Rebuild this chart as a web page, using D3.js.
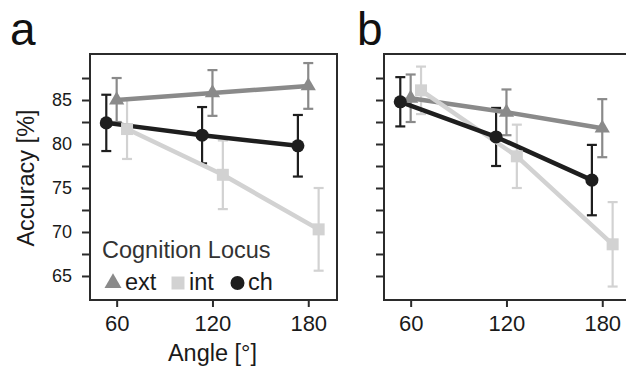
<!DOCTYPE html>
<html>
<head>
<meta charset="utf-8">
<script src="https://cdn.jsdelivr.net/npm/d3@7"></script>
<style>
  html, body { margin: 0; padding: 0; background: #fff; }
  svg { display: block; font-family: "Liberation Sans", Arial, sans-serif; }
</style>
</head>
<body>
<svg id="chart" width="626" height="368"></svg>
<script>
// ---- data ----
const angles = [60, 120, 180];
const seriesNames = ["ext", "int", "ch"];
const yTicks = [65, 67.5, 70, 72.5, 75, 77.5, 80, 82.5, 85, 87.5];
const yLabels = [65, 70, 75, 80, 85];
const panelLabels = ["a", "b"];

// panel a
const extA = [85.0, 85.8, 86.6];
const extAErr = [2.5, 2.6, 2.6];
const intA = [81.7, 76.5, 70.3];
const intAErr = [3.4, 3.9, 4.7];
const chA = [82.4, 81.0, 79.8];
const chAErr = [3.2, 3.2, 3.5];
// panel b
const extB = [85.2, 83.6, 81.8];
const extBErr = [2.7, 2.6, 3.3];
const intB = [86.1, 78.6, 68.6];
const intBErr = [2.7, 3.6, 4.8];
const chB = [84.8, 80.8, 75.9];
const chBErr = [2.8, 3.3, 4.0];

// ---- styles ----
const colors = { ext: "#8a8a8a", int: "#d2d2d2", ch: "#1e1e1e" };
const dodge = { ext: 0, int: 6.5, ch: -6.5 };
const symbols = { ext: d3.symbolTriangle, int: d3.symbolSquare, ch: d3.symbolCircle };
const symSize = { ext: 100, int: 144, ch: 135 };

const panels = [
  { label: panelLabels[0], left: 90, data: { ext: [extA, extAErr], int: [intA, intAErr], ch: [chA, chAErr] }, yLabels: true, xTitle: true },
  { label: panelLabels[1], left: 384, data: { ext: [extB, extBErr], int: [intB, intBErr], ch: [chB, chBErr] }, yLabels: false, xTitle: false }
];

const plotTop = 54, plotBottom = 300, plotWidth = 247;
const svg = d3.select("#chart");

const y = d3.scaleLinear().domain([62.27, 90.23]).range([plotBottom, plotTop]);

panels.forEach((p, pi) => {
  const x = d3.scaleLinear().domain([43.3, 198]).range([p.left, p.left + plotWidth]);
  const g = svg.append("g");

  // panel letter
  g.append("text")
    .attr("x", pi === 0 ? 10 : 357)
    .attr("y", 45)
    .attr("font-size", 46)
    .attr("fill", "#111")
    .text(p.label);

  // y axis ticks
  const yAxis = d3.axisLeft(y)
    .tickValues(yTicks)
    .tickSize(8)
    .tickPadding(10)
    .tickFormat(d => (p.yLabels && yLabels.includes(d)) ? d3.format("d")(d) : "");
  const ya = g.append("g").attr("transform", `translate(${p.left},0)`).call(yAxis);
  ya.select(".domain").remove();
  ya.selectAll(".tick line").attr("stroke", "#2b2b2b").attr("stroke-width", 2);
  ya.selectAll(".tick text").attr("font-size", 18).attr("fill", "#1a1a1a")
    .attr("font-family", "Liberation Sans, Arial, sans-serif");

  // x axis ticks
  const xAxis = d3.axisBottom(x).tickValues(angles).tickSize(7).tickPadding(8.5).tickFormat(d3.format("d"));
  const xa = g.append("g").attr("transform", `translate(0,${plotBottom})`).call(xAxis);
  xa.select(".domain").remove();
  xa.selectAll(".tick line").attr("stroke", "#2b2b2b").attr("stroke-width", 2);
  xa.selectAll(".tick text").attr("font-size", 22).attr("fill", "#1a1a1a")
    .attr("font-family", "Liberation Sans, Arial, sans-serif");

  // box
  g.append("rect")
    .attr("x", p.left).attr("y", plotTop)
    .attr("width", plotWidth).attr("height", plotBottom - plotTop)
    .attr("fill", "none").attr("stroke", "#2b2b2b").attr("stroke-width", 2);

  const rows = s => angles.map((a, i) => ({ a, v: p.data[s][0][i], e: p.data[s][1][i], s }));

  // error bars
  seriesNames.forEach(s => {
    const eg = g.append("g").attr("stroke", colors[s]).attr("stroke-width", 2.2).attr("fill", "none");
    rows(s).forEach(d => {
      const cx = x(d.a + dodge[s]);
      eg.append("line").attr("x1", cx).attr("x2", cx).attr("y1", y(d.v + d.e)).attr("y2", y(d.v - d.e));
      eg.append("line").attr("x1", cx - 5).attr("x2", cx + 5).attr("y1", y(d.v + d.e)).attr("y2", y(d.v + d.e));
      eg.append("line").attr("x1", cx - 5).attr("x2", cx + 5).attr("y1", y(d.v - d.e)).attr("y2", y(d.v - d.e));
    });
  });

  // lines
  const line = d3.line().x(d => x(d.a + dodge[d.s])).y(d => y(d.v));
  seriesNames.forEach(s => {
    g.append("path").datum(rows(s))
      .attr("d", line).attr("fill", "none")
      .attr("stroke", colors[s]).attr("stroke-width", 4.5)
      .attr("stroke-linejoin", "round");
  });

  // points
  seriesNames.forEach(s => {
    g.selectAll(null).data(rows(s)).enter().append("path")
      .attr("d", d3.symbol().type(symbols[s]).size(symSize[s]))
      .attr("transform", d => `translate(${x(d.a + dodge[s])},${y(d.v)})`)
      .attr("fill", colors[s]);
  });

  if (p.yLabels) {
    g.append("text")
      .attr("transform", `translate(34,${(plotTop + plotBottom) / 2 + 1}) rotate(-90)`)
      .attr("text-anchor", "middle")
      .attr("font-size", 23.5).attr("fill", "#1a1a1a")
      .text("Accuracy [%]");
  }
  if (p.xTitle) {
    g.append("text")
      .attr("x", x(120)).attr("y", 361)
      .attr("text-anchor", "middle")
      .attr("font-size", 23.5).attr("fill", "#1a1a1a")
      .text("Angle [°]");

    // legend
    const lg = g.append("g");
    lg.append("text").attr("x", 102).attr("y", 258)
      .attr("font-size", 23.5).attr("fill", "#333").text("Cognition Locus");
    const legendPos = { ext: [113, 125], int: [178, 189], ch: [237.5, 248] };
    const legSize = { ext: 125, int: 169, ch: 154 };
    seriesNames.forEach(s => {
      const [kx, tx] = legendPos[s];
      lg.append("path")
        .attr("d", d3.symbol().type(symbols[s]).size(legSize[s]))
        .attr("transform", `translate(${kx},${283})`)
        .attr("fill", colors[s]);
      lg.append("text").attr("x", tx).attr("y", 290)
        .attr("font-size", 23.5).attr("fill", "#1a1a1a").text(s);
    });
  }
});
</script>
</body>
</html>
